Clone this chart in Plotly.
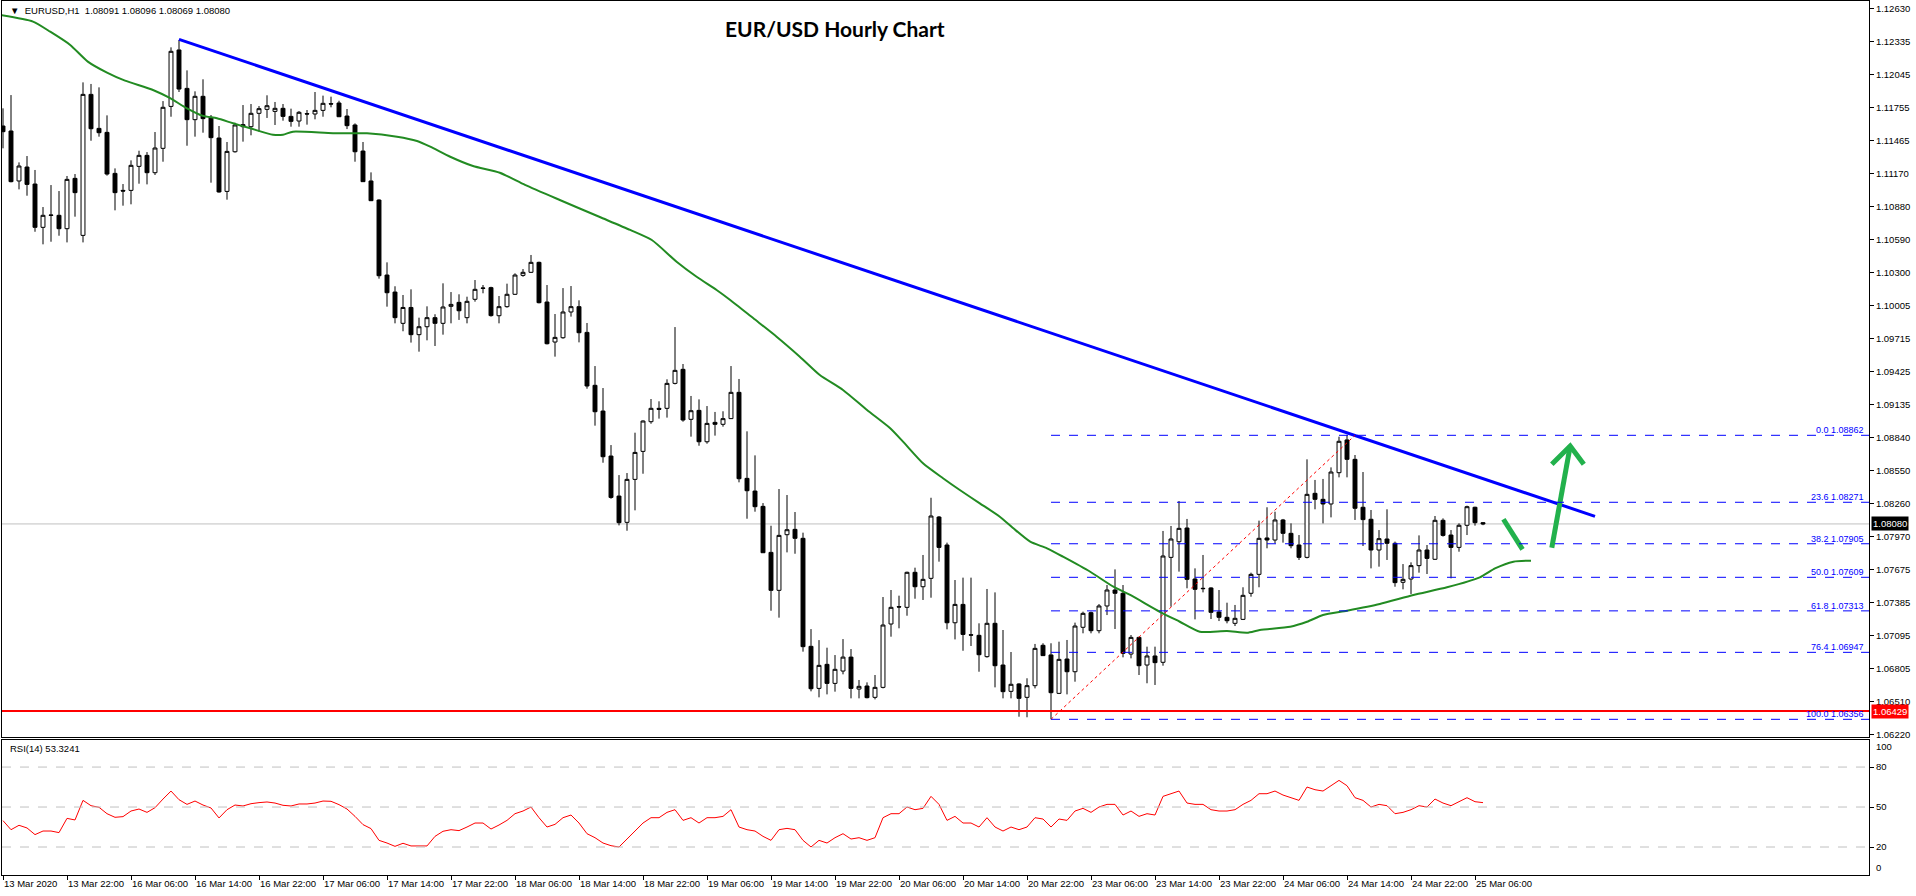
import plotly.graph_objects as go

# ---------------- data ----------------
x_labels = ["13 Mar 2020", "13 Mar 22:00", "16 Mar 06:00", "16 Mar 14:00", "16 Mar 22:00",
            "17 Mar 06:00", "17 Mar 14:00", "17 Mar 22:00", "18 Mar 06:00", "18 Mar 14:00",
            "18 Mar 22:00", "19 Mar 06:00", "19 Mar 14:00", "19 Mar 22:00", "20 Mar 06:00",
            "20 Mar 14:00", "20 Mar 22:00", "23 Mar 06:00", "23 Mar 14:00", "23 Mar 22:00",
            "24 Mar 06:00", "24 Mar 14:00", "24 Mar 22:00", "25 Mar 06:00"]
x_label_bars = [8 * k for k in range(len(x_labels))]

price_ticks = [1.12630, 1.12335, 1.12045, 1.11755, 1.11465, 1.11170, 1.10880, 1.10590,
               1.10300, 1.10005, 1.09715, 1.09425, 1.09135, 1.08840, 1.08550, 1.08260,
               1.07970, 1.07675, 1.07385, 1.07095, 1.06805, 1.06510, 1.06220]

opens = [1.11591, 1.11547, 1.11106, 1.11229, 1.11079, 1.10697, 1.10806, 1.10803, 1.10685, 1.11129,
         1.10626, 1.11870, 1.11570, 1.11535, 1.11173, 1.11023, 1.11023, 1.11235, 1.11332, 1.11179,
         1.11394, 1.11764, 1.12262, 1.11923, 1.11647, 1.11853, 1.11667, 1.11485, 1.11014, 1.11364,
         1.11603, 1.11585, 1.11703, 1.11738, 1.11720, 1.11747, 1.11676, 1.11635, 1.11700, 1.11697,
         1.11729, 1.11788, 1.11794, 1.11679, 1.11600, 1.11370, 1.11106, 1.10938, 1.10276, 1.10126,
         1.09850, 1.09990, 1.09750, 1.09820, 1.09900, 1.09850, 1.10000, 1.10035, 1.09900, 1.10062,
         1.10162, 1.10165, 1.09917, 1.09997, 1.10106, 1.10273, 1.10300, 1.10388, 1.10038, 1.09685,
         1.09723, 1.09950, 1.09997, 1.09770, 1.09303, 1.09076, 1.08679, 1.08326, 1.08094, 1.08473,
         1.08720, 1.08982, 1.09100, 1.09100, 1.09320, 1.09444, 1.09003, 1.09082, 1.08805, 1.08976,
         1.08959, 1.09009, 1.09241, 1.08482, 1.08370, 1.08235, 1.07829, 1.07494, 1.07985, 1.08032,
         1.07953, 1.07000, 1.06629, 1.06841, 1.06673, 1.06782, 1.06905, 1.06623, 1.06650, 1.06550,
         1.06638, 1.07197, 1.07350, 1.07344, 1.07653, 1.07526, 1.07600, 1.08141, 1.07894, 1.07208,
         1.07370, 1.07102, 1.07097, 1.06909, 1.07203, 1.06835, 1.06603, 1.06668, 1.06550, 1.06653,
         1.07009, 1.06924, 1.06585, 1.06888, 1.06776, 1.07168, 1.07297, 1.07138, 1.07356, 1.07497,
         1.07468, 1.06932, 1.07079, 1.06835, 1.06915, 1.06859, 1.07785, 1.07923, 1.08044, 1.07594,
         1.07512, 1.07515, 1.07303, 1.07256, 1.07203, 1.07238, 1.07468, 1.07635, 1.07956, 1.07938,
         1.08115, 1.07997, 1.07894, 1.07785, 1.08350, 1.08297, 1.08256, 1.08532, 1.08821, 1.08650,
         1.08227, 1.08121, 1.07850, 1.07947, 1.07909, 1.07565, 1.07594, 1.07712, 1.07850, 1.07768,
         1.08112, 1.07982, 1.07873, 1.08068, 1.08227, 1.08091]
highs = [1.11747, 1.11864, 1.11270, 1.11326, 1.11203, 1.10876, 1.11070, 1.11017, 1.11150, 1.11167,
         1.11976, 1.11962, 1.11932, 1.11685, 1.11217, 1.11079, 1.11288, 1.11373, 1.11361, 1.11538,
         1.11811, 1.12285, 1.12350, 1.12082, 1.11897, 1.12003, 1.11688, 1.11591, 1.11450, 1.11620,
         1.11776, 1.11785, 1.11767, 1.11862, 1.11803, 1.11785, 1.11744, 1.11723, 1.11732, 1.11891,
         1.11859, 1.11850, 1.11814, 1.11741, 1.11614, 1.11450, 1.11182, 1.10944, 1.10388, 1.10177,
         1.10100, 1.10150, 1.09900, 1.10000, 1.09930, 1.10203, 1.10126, 1.10106, 1.10085, 1.10232,
         1.10188, 1.10173, 1.10091, 1.10200, 1.10291, 1.10329, 1.10453, 1.10394, 1.10188, 1.09932,
         1.10161, 1.10179, 1.10053, 1.09853, 1.09473, 1.09279, 1.08776, 1.08511, 1.08529, 1.08885,
         1.08994, 1.09182, 1.09162, 1.09356, 1.09817, 1.09491, 1.09209, 1.09179, 1.09120, 1.09068,
         1.09074, 1.09473, 1.09359, 1.08897, 1.08685, 1.08264, 1.08064, 1.08388, 1.08335, 1.08185,
         1.08003, 1.07152, 1.07055, 1.06988, 1.06923, 1.07064, 1.06976, 1.06703, 1.06682, 1.06747,
         1.07435, 1.07497, 1.07447, 1.07659, 1.07694, 1.07806, 1.08311, 1.08150, 1.07915, 1.07585,
         1.07606, 1.07606, 1.07203, 1.07506, 1.07476, 1.07144, 1.06950, 1.06674, 1.06718, 1.07021,
         1.07027, 1.07027, 1.07041, 1.07056, 1.07209, 1.07306, 1.07306, 1.07373, 1.07541, 1.07679,
         1.07541, 1.07100, 1.07085, 1.06997, 1.06997, 1.08018, 1.08062, 1.08282, 1.08124, 1.07688,
         1.07806, 1.07521, 1.07497, 1.07385, 1.07365, 1.07521, 1.07650, 1.08109, 1.08227, 1.08188,
         1.08124, 1.08085, 1.07982, 1.08650, 1.08468, 1.08477, 1.08579, 1.08850, 1.08865, 1.08688,
         1.08538, 1.08203, 1.08026, 1.08209, 1.07924, 1.07726, 1.07741, 1.07979, 1.07894, 1.08150,
         1.08129, 1.08026, 1.08085, 1.08241, 1.08232, 1.08096]
lows = [1.11394, 1.11094, 1.11032, 1.10976, 1.10658, 1.10547, 1.10570, 1.10623, 1.10564, 1.10791,
        1.10564, 1.11461, 1.11497, 1.11153, 1.10847, 1.10888, 1.10900, 1.11082, 1.11076, 1.11159,
        1.11276, 1.11673, 1.11891, 1.11417, 1.11497, 1.11532, 1.11091, 1.11003, 1.10941, 1.11356,
        1.11453, 1.11509, 1.11541, 1.11662, 1.11600, 1.11638, 1.11585, 1.11585, 1.11603, 1.11650,
        1.11673, 1.11756, 1.11670, 1.11564, 1.11276, 1.11097, 1.10929, 1.10244, 1.09997, 1.09850,
        1.09780, 1.09680, 1.09600, 1.09700, 1.09650, 1.09750, 1.09850, 1.09880, 1.09850, 1.10041,
        1.10115, 1.09909, 1.09850, 1.09988, 1.10100, 1.10261, 1.10294, 1.10026, 1.09664, 1.09556,
        1.09714, 1.09909, 1.09682, 1.09273, 1.08947, 1.08620, 1.08302, 1.08067, 1.08020, 1.08200,
        1.08523, 1.08964, 1.09009, 1.09018, 1.09311, 1.08982, 1.08850, 1.08770, 1.08788, 1.08859,
        1.08938, 1.09006, 1.08447, 1.08126, 1.08188, 1.07826, 1.07314, 1.07253, 1.07829, 1.07817,
        1.06953, 1.06603, 1.06550, 1.06576, 1.06600, 1.06753, 1.06541, 1.06541, 1.06541, 1.06532,
        1.06629, 1.07085, 1.07159, 1.07270, 1.07420, 1.07409, 1.07429, 1.07747, 1.07150, 1.07061,
        1.06961, 1.07003, 1.06776, 1.06900, 1.06638, 1.06541, 1.06541, 1.06379, 1.06374, 1.06629,
        1.06915, 1.06356, 1.06579, 1.06576, 1.06688, 1.07115, 1.07115, 1.07115, 1.07276, 1.07153,
        1.06903, 1.06894, 1.06747, 1.06674, 1.06659, 1.06829, 1.07350, 1.07659, 1.07512, 1.07238,
        1.07476, 1.07241, 1.07223, 1.07203, 1.07179, 1.07232, 1.07438, 1.07521, 1.07865, 1.07909,
        1.07915, 1.07865, 1.07762, 1.07776, 1.08209, 1.08085, 1.08138, 1.08491, 1.08491, 1.08115,
        1.07885, 1.07688, 1.07703, 1.07762, 1.07526, 1.07503, 1.07462, 1.07650, 1.07638, 1.07762,
        1.07968, 1.07600, 1.07835, 1.07982, 1.08065, 1.08069]
closes = [1.11541, 1.11100, 1.11238, 1.11076, 1.10697, 1.10803, 1.10803, 1.10685, 1.11120, 1.11003,
          1.11870, 1.11567, 1.11532, 1.11167, 1.11003, 1.11017, 1.11244, 1.11332, 1.11179, 1.11397,
          1.11756, 1.12250, 1.11917, 1.11647, 1.11853, 1.11656, 1.11488, 1.11009, 1.11367, 1.11600,
          1.11585, 1.11703, 1.11744, 1.11770, 1.11747, 1.11676, 1.11632, 1.11712, 1.11697, 1.11729,
          1.11791, 1.11785, 1.11673, 1.11594, 1.11364, 1.11100, 1.10932, 1.10270, 1.10120, 1.09900,
          1.09990, 1.09750, 1.09820, 1.09900, 1.09850, 1.09994, 1.10017, 1.09961, 1.10044, 1.10150,
          1.10159, 1.09918, 1.09997, 1.10106, 1.10276, 1.10300, 1.10388, 1.10032, 1.09670, 1.09726,
          1.09950, 1.09997, 1.09767, 1.09297, 1.09070, 1.08673, 1.08314, 1.08091, 1.08473, 1.08711,
          1.08988, 1.09100, 1.09091, 1.09320, 1.09435, 1.08997, 1.09079, 1.08805, 1.08967, 1.08959,
          1.09009, 1.09241, 1.08479, 1.08373, 1.08232, 1.07826, 1.07494, 1.07979, 1.08029, 1.07953,
          1.06997, 1.06626, 1.06832, 1.06673, 1.06797, 1.06905, 1.06629, 1.06647, 1.06547, 1.06638,
          1.07188, 1.07344, 1.07347, 1.07653, 1.07526, 1.07591, 1.08150, 1.07873, 1.07208, 1.07370,
          1.07105, 1.07099, 1.06926, 1.07203, 1.06829, 1.06600, 1.06665, 1.06541, 1.06653, 1.06982,
          1.06918, 1.06591, 1.06885, 1.06776, 1.07179, 1.07291, 1.07138, 1.07356, 1.07497, 1.07468,
          1.06938, 1.07079, 1.06829, 1.06915, 1.06856, 1.07797, 1.07947, 1.08041, 1.07591, 1.07503,
          1.07509, 1.07300, 1.07256, 1.07226, 1.07247, 1.07450, 1.07635, 1.07953, 1.07938, 1.08115,
          1.07997, 1.07888, 1.07785, 1.08341, 1.08297, 1.08256, 1.08538, 1.08809, 1.08650, 1.08218,
          1.08118, 1.07850, 1.07950, 1.07909, 1.07562, 1.07591, 1.07712, 1.07850, 1.07776, 1.08112,
          1.07979, 1.07873, 1.08068, 1.08232, 1.08091, 1.08080]

ma_bars = [-0.4, 3.75, 5.9, 8.4, 10.6, 13, 15.25, 18.75, 20.9, 23, 25, 26.75, 28.75, 30.9, 33.75,
           35, 36.25, 41.25, 45.5, 49.25, 51.75, 53.4, 55.9, 58.75, 62.1, 65.25, 69.6, 74.6, 78.4,
           81.1, 84.2, 86.7, 89.2, 90.9, 93.8, 96.7, 99.6, 102.1, 105, 108, 110.9, 112.5, 115,
           117.5, 119.6, 122.1, 124.6, 126.3, 128.4, 130.5, 132.5, 135.9, 138.8, 140.9, 144.6,
           147.1, 149.6, 153, 155.5, 157.1, 160.9, 163, 165, 168, 172.1, 176.3, 180.5, 184.6,
           186.5, 188.8, 191]
ma_values = [1.12571, 1.12512, 1.12423, 1.12306, 1.12159, 1.12062, 1.11991, 1.11909, 1.11836,
             1.11747, 1.11680, 1.11659, 1.11615, 1.11571, 1.11514, 1.11514, 1.11541, 1.11527,
             1.11527, 1.11497, 1.11459, 1.11409, 1.11320, 1.11238, 1.11179, 1.11071, 1.10938,
             1.10788, 1.10674, 1.10585, 1.10394, 1.10261, 1.10144, 1.10056, 1.09894, 1.09732,
             1.09556, 1.09394, 1.09262, 1.09085, 1.08924, 1.08806, 1.08615, 1.08483, 1.08379,
             1.08262, 1.08144, 1.08041, 1.07923, 1.07865, 1.07791, 1.07658, 1.07526, 1.07453,
             1.07305, 1.07217, 1.07129, 1.07135, 1.07120, 1.07144, 1.07173, 1.07217, 1.07276,
             1.07314, 1.07373, 1.07453, 1.07521, 1.07609, 1.07688, 1.07747, 1.07756]

rsi_values = [39.8, 33, 36.3, 34.3, 29.3, 32, 32, 30.8, 41.5, 40.3, 55, 51, 49.8, 45, 42.3, 42.8,
              47, 48.5, 46, 49.5, 56, 62, 55.5, 52, 54.5, 51.5, 49.3, 41.8, 48, 51.5, 50.8, 52.5,
              53.3, 53.8, 53, 51.3, 50.8, 52.3, 52.3, 53, 54.5, 54.3, 51.8, 48.5, 43, 36.8, 33.8,
              25, 23, 20.5, 22.8, 20.8, 20.8, 20.8, 28, 31.8, 33, 32.3, 35, 38, 38, 33.5, 36.5,
              40, 45, 47, 50, 42, 35, 37, 42, 44, 38, 30, 27, 23, 21, 20, 26, 32, 38, 42, 42, 46,
              48, 40, 42, 38, 42, 42, 43, 48, 35, 33, 32, 28, 25, 33, 34, 33, 25, 20, 25, 23, 27,
              30, 26, 27, 25, 27, 42, 45, 45, 50, 48, 49, 58, 52, 40, 43, 38, 38, 35, 42, 35, 32,
              35, 33, 35, 42, 41, 35, 41, 40, 47, 49, 46, 50, 52, 52, 44, 47, 43, 45, 44, 58, 60,
              62, 53, 52, 52, 48, 47, 47, 48, 52, 55, 60, 60, 62, 59, 57, 55, 65, 63, 62, 66, 70,
              66, 57, 55, 50, 52, 51, 45, 46, 48, 51, 50, 56, 53, 51, 54, 57, 54, 53.3]

trend_bars = [22, 199]
trend_prices = [1.12356, 1.08147]

fib_start_bar = 131
fib_end_bar = 169
fib_ratios = ["0.0", "23.6", "38.2", "50.0", "61.8", "76.4", "100.0"]
fib_prices = [1.08862, 1.08271, 1.07905, 1.07609, 1.07313, 1.06947, 1.06356]

support_price = 1.06429
bid_price = 1.08080

stroke_bars = [187.55, 189.94]
stroke_prices = [1.08121, 1.07856]
arrow_shaft_bars = [193.6, 195.9]
arrow_shaft_prices = [1.07870, 1.08768]
arrow_head_bars = [193.6, 195.9, 197.6]
arrow_head_prices = [1.08606, 1.08768, 1.08606]

rsi_levels = [80, 50, 20]

# ---------------- figure ----------------
bars = list(range(len(opens)))
FONT = "Liberation Sans"
X_RANGE = [-0.125, 233.25]

fig = go.Figure()

fig.add_trace(go.Candlestick(
    x=bars, open=opens, high=highs, low=lows, close=closes,
    xaxis="x", yaxis="y",
    increasing=dict(line=dict(color="black", width=1), fillcolor="white"),
    decreasing=dict(line=dict(color="black", width=1), fillcolor="black"),
    whiskerwidth=0, hoverinfo="skip", showlegend=False))

fig.add_trace(go.Scatter(x=ma_bars, y=ma_values, mode="lines", xaxis="x", yaxis="y",
                         line=dict(color="#228b22", width=2, shape="spline", smoothing=0.6),
                         hoverinfo="skip"))

fig.add_trace(go.Scatter(x=trend_bars, y=trend_prices, mode="lines", xaxis="x", yaxis="y",
                         line=dict(color="#0000ff", width=3), hoverinfo="skip"))

fig.add_trace(go.Scatter(x=[fib_start_bar, fib_end_bar], y=[fib_prices[-1], fib_prices[0]],
                         mode="lines", xaxis="x", yaxis="y",
                         line=dict(color="#ff0000", width=1, dash="dot"), hoverinfo="skip"))

for xs, ys in [(stroke_bars, stroke_prices), (arrow_shaft_bars, arrow_shaft_prices),
               (arrow_head_bars, arrow_head_prices)]:
    fig.add_trace(go.Scatter(x=xs, y=ys, mode="lines", xaxis="x", yaxis="y",
                             line=dict(color="#22b14c", width=5), hoverinfo="skip"))

fig.add_trace(go.Scatter(x=bars, y=rsi_values, mode="lines", xaxis="x2", yaxis="y2",
                         line=dict(color="#ff0000", width=1), hoverinfo="skip"))

shapes = []
for p in fib_prices:
    shapes.append(dict(type="line", xref="x", yref="y", x0=fib_start_bar, x1=X_RANGE[1],
                       y0=p, y1=p, line=dict(color="#0000ff", width=1, dash="dash")))
shapes.append(dict(type="line", xref="paper", yref="y", x0=0, x1=1, y0=bid_price, y1=bid_price,
                   line=dict(color="#c0c0c0", width=1), layer="below"))
shapes.append(dict(type="line", xref="paper", yref="y", x0=0, x1=1, y0=support_price,
                   y1=support_price, line=dict(color="#ff0000", width=2)))
for lv in rsi_levels:
    shapes.append(dict(type="line", xref="paper", yref="y2", x0=0, x1=1, y0=lv, y1=lv,
                       line=dict(color="#c0c0c0", width=1, dash="dash")))

annotations = []
annotations.append(dict(text="<b>EUR/USD Hourly Chart</b>", xref="paper", yref="paper",
                        x=0.4462, y=0.968, xanchor="center", yanchor="middle", showarrow=False,
                        font=dict(family="Lato", size=21, color="black")))
annotations.append(dict(text="\u25BC  EURUSD,H1  1.08091 1.08096 1.08069 1.08080",
                        xref="paper", yref="paper", x=0.003, y=0.9886, xanchor="left",
                        yanchor="middle", showarrow=False,
                        font=dict(family=FONT, size=9.5, color="black")))
annotations.append(dict(text="RSI(14) 53.3241", xref="paper", yref="paper", x=0.003,
                        y=(875 - 748) / 874, xanchor="left", yanchor="middle", showarrow=False,
                        font=dict(family=FONT, size=9.5, color="black")))
for r, p in zip(fib_ratios, fib_prices):
    annotations.append(dict(text=f"{r} {p:.5f}", xref="paper", yref="y", x=0.9984, y=p,
                            xanchor="right", yanchor="bottom", showarrow=False, yshift=-2,
                            font=dict(family=FONT, size=9, color="#0000ff")))
annotations.append(dict(text=f"{bid_price:.5f}", xref="paper", yref="y", x=1, xshift=2, y=bid_price,
                        xanchor="left", yanchor="middle", showarrow=False, bgcolor="black",
                        borderpad=1, font=dict(family=FONT, size=9.5, color="white")))
annotations.append(dict(text=f"{support_price:.5f}", xref="paper", yref="y", x=1, xshift=2,
                        y=support_price, xanchor="left", yanchor="middle", showarrow=False,
                        bgcolor="#ff0000", borderpad=1,
                        font=dict(family=FONT, size=9.5, color="white")))
for lbl, val in [("100", 95.5), ("0", 4.3)]:
    annotations.append(dict(text=lbl, xref="paper", yref="y2", x=1, xshift=5, y=val,
                            xanchor="left", yanchor="middle", showarrow=False,
                            font=dict(family=FONT, size=9.5, color="black")))

axis_common = dict(showgrid=False, zeroline=False, showline=True, mirror=True,
                   linecolor="black", linewidth=1)

fig.update_layout(
    width=1916, height=896,
    margin=dict(l=2, r=47, t=1, b=21),
    paper_bgcolor="white", plot_bgcolor="white",
    showlegend=False, hovermode=False,
    xaxis=dict(domain=[0, 1], anchor="y", matches="x2", range=X_RANGE, showticklabels=False,
               ticks="", rangeslider=dict(visible=False), **axis_common),
    yaxis=dict(domain=[(875 - 737) / 874, 1], anchor="x", side="right",
               range=[1.06200, 1.12694], tickvals=price_ticks,
               ticktext=[f"{v:.5f}" for v in price_ticks], ticks="outside", ticklen=4,
               tickcolor="black", tickfont=dict(family=FONT, size=9.5, color="black"),
               **axis_common),
    xaxis2=dict(domain=[0, 1], anchor="y2", range=X_RANGE, tickvals=x_label_bars,
                ticktext=x_labels, ticks="outside", ticklen=4, tickcolor="black",
                ticklabelposition="outside right", tickangle=0,
                tickfont=dict(family=FONT, size=9.5, color="black"),
                rangeslider=dict(visible=False), **axis_common),
    yaxis2=dict(domain=[0, (875 - 740) / 874], anchor="x2", side="right", range=[-1, 100.3],
                tickvals=rsi_levels, ticktext=[str(v) for v in rsi_levels], ticks="outside",
                ticklen=4, tickcolor="black", tickfont=dict(family=FONT, size=9.5, color="black"),
                **axis_common),
    shapes=shapes, annotations=annotations,
)

fig.write_html("out.html", config={"displayModeBar": False},
               post_script="document.body.style.margin='0';document.body.style.overflow='hidden';")
